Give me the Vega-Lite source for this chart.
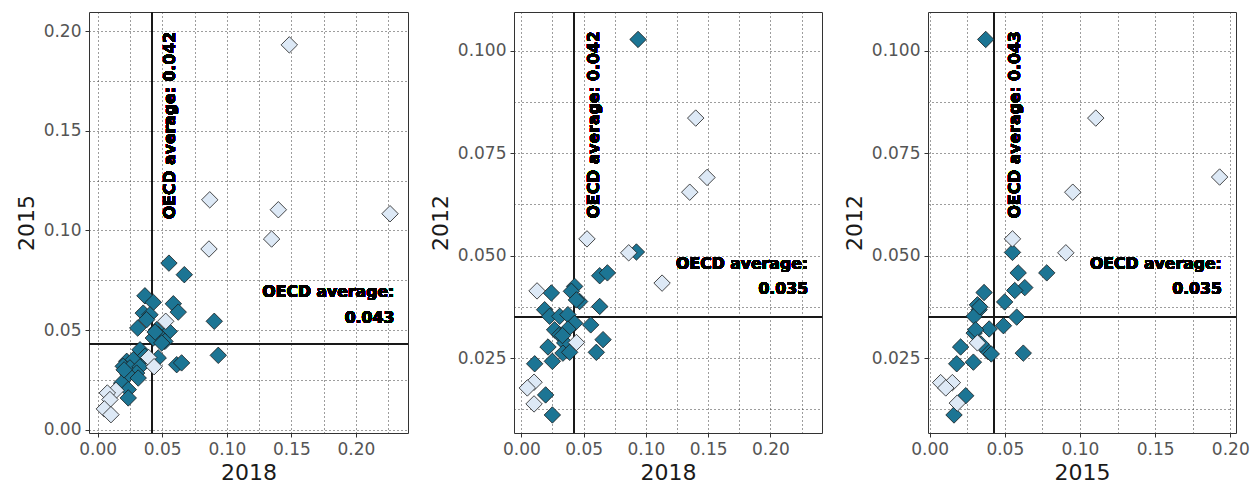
{
  "$schema": "https://vega.github.io/schema/vega-lite/v6.json",
  "padding": {"left": 14, "top": 11, "right": 0, "bottom": 0},
  "bounds": "flush",
  "spacing": 106,
  "config": {
    "view": {"stroke": "#333333", "strokeWidth": 1},
    "axis": {
      "domain": false, "grid": true, "gridColor": "#3a3a3a", "gridDash": [1, 3], "gridWidth": 1,
      "labelFont": "DejaVu Sans", "labelFontSize": 17, "labelColor": "#555555",
      "tickColor": "#333333", "tickSize": 4, "labelPadding": 4,
      "titleFont": "DejaVu Sans", "titleFontSize": 22, "titleFontWeight": "normal", "titleColor": "#1a1a1a", "titlePadding": 5
    }
  },
  "datasets": {
    "p1": [
      {"x": 0.0552, "y": 0.0836, "g": "dark"}, {"x": 0.0671, "y": 0.0778, "g": "dark"}, {"x": 0.0366, "y": 0.0672, "g": "dark"},
      {"x": 0.0431, "y": 0.0639, "g": "dark"}, {"x": 0.0586, "y": 0.0632, "g": "dark"}, {"x": 0.0624, "y": 0.059, "g": "dark"},
      {"x": 0.0353, "y": 0.0585, "g": "dark"}, {"x": 0.0405, "y": 0.0577, "g": "dark"}, {"x": 0.0379, "y": 0.0552, "g": "dark"},
      {"x": 0.031, "y": 0.051, "g": "dark"}, {"x": 0.0457, "y": 0.0502, "g": "dark"}, {"x": 0.0554, "y": 0.0493, "g": "dark"},
      {"x": 0.0469, "y": 0.0477, "g": "dark"}, {"x": 0.0521, "y": 0.0443, "g": "dark"}, {"x": 0.0431, "y": 0.046, "g": "dark"},
      {"x": 0.0496, "y": 0.0435, "g": "dark"}, {"x": 0.0903, "y": 0.0544, "g": "dark"}, {"x": 0.0934, "y": 0.0373, "g": "dark"},
      {"x": 0.0328, "y": 0.0401, "g": "dark"}, {"x": 0.0366, "y": 0.0368, "g": "dark"}, {"x": 0.0469, "y": 0.036, "g": "dark"},
      {"x": 0.0225, "y": 0.0343, "g": "dark"}, {"x": 0.0276, "y": 0.0351, "g": "dark"}, {"x": 0.0198, "y": 0.0318, "g": "dark"},
      {"x": 0.025, "y": 0.031, "g": "dark"}, {"x": 0.0328, "y": 0.0315, "g": "dark"}, {"x": 0.0302, "y": 0.0284, "g": "dark"},
      {"x": 0.0237, "y": 0.0276, "g": "dark"}, {"x": 0.0314, "y": 0.0259, "g": "dark"}, {"x": 0.0186, "y": 0.0234, "g": "dark"},
      {"x": 0.0237, "y": 0.0201, "g": "dark"}, {"x": 0.0237, "y": 0.0159, "g": "dark"}, {"x": 0.0612, "y": 0.0326, "g": "dark"},
      {"x": 0.065, "y": 0.0335, "g": "dark"}, {"x": 0.0445, "y": 0.049, "g": "dark"}, {"x": 0.0205, "y": 0.03, "g": "dark"},
      {"x": 0.1484, "y": 0.1932, "g": "light"}, {"x": 0.0868, "y": 0.1154, "g": "light"}, {"x": 0.1399, "y": 0.1104, "g": "light"},
      {"x": 0.2264, "y": 0.1084, "g": "light"}, {"x": 0.1347, "y": 0.0957, "g": "light"}, {"x": 0.0862, "y": 0.0907, "g": "light"},
      {"x": 0.0527, "y": 0.0544, "g": "light"}, {"x": 0.0395, "y": 0.0362, "g": "light"}, {"x": 0.0437, "y": 0.0316, "g": "light"},
      {"x": 0.0142, "y": 0.0197, "g": "light"}, {"x": 0.0075, "y": 0.0184, "g": "light"}, {"x": 0.0095, "y": 0.0151, "g": "light"},
      {"x": 0.0052, "y": 0.0104, "g": "light"}, {"x": 0.0103, "y": 0.0075, "g": "light"}
    ],
    "p2": [
      {"x": 0.0937, "y": 0.1028, "g": "dark"}, {"x": 0.0924, "y": 0.0509, "g": "dark"}, {"x": 0.0629, "y": 0.0451, "g": "dark"},
      {"x": 0.0691, "y": 0.0458, "g": "dark"}, {"x": 0.0428, "y": 0.0425, "g": "dark"}, {"x": 0.0402, "y": 0.0413, "g": "dark"},
      {"x": 0.0468, "y": 0.0388, "g": "dark"}, {"x": 0.0442, "y": 0.0392, "g": "dark"}, {"x": 0.0629, "y": 0.0376, "g": "dark"},
      {"x": 0.0241, "y": 0.0409, "g": "dark"}, {"x": 0.0187, "y": 0.0368, "g": "dark"}, {"x": 0.0227, "y": 0.0352, "g": "dark"},
      {"x": 0.0308, "y": 0.0352, "g": "dark"}, {"x": 0.0374, "y": 0.0356, "g": "dark"}, {"x": 0.0428, "y": 0.0335, "g": "dark"},
      {"x": 0.0557, "y": 0.0331, "g": "dark"}, {"x": 0.0267, "y": 0.0319, "g": "dark"}, {"x": 0.0308, "y": 0.0307, "g": "dark"},
      {"x": 0.0374, "y": 0.0321, "g": "dark"}, {"x": 0.0656, "y": 0.0295, "g": "dark"}, {"x": 0.0348, "y": 0.0287, "g": "dark"},
      {"x": 0.0214, "y": 0.0277, "g": "dark"}, {"x": 0.0334, "y": 0.0262, "g": "dark"}, {"x": 0.0388, "y": 0.0264, "g": "dark"},
      {"x": 0.0602, "y": 0.0264, "g": "dark"}, {"x": 0.0249, "y": 0.0242, "g": "dark"}, {"x": 0.0107, "y": 0.0236, "g": "dark"},
      {"x": 0.0195, "y": 0.016, "g": "dark"}, {"x": 0.0249, "y": 0.0111, "g": "dark"}, {"x": 0.033, "y": 0.0305, "g": "dark"},
      {"x": 0.14, "y": 0.0836, "g": "light"}, {"x": 0.1491, "y": 0.0691, "g": "light"}, {"x": 0.1352, "y": 0.0655, "g": "light"},
      {"x": 0.113, "y": 0.0433, "g": "light"}, {"x": 0.0862, "y": 0.0507, "g": "light"}, {"x": 0.0527, "y": 0.0541, "g": "light"},
      {"x": 0.0126, "y": 0.0414, "g": "light"}, {"x": 0.0442, "y": 0.0288, "g": "light"}, {"x": 0.0102, "y": 0.0191, "g": "light"},
      {"x": 0.0048, "y": 0.0177, "g": "light"}, {"x": 0.0102, "y": 0.0138, "g": "light"}
    ],
    "p3": [
      {"x": 0.0373, "y": 0.1028, "g": "dark"}, {"x": 0.0551, "y": 0.0508, "g": "dark"}, {"x": 0.0589, "y": 0.0458, "g": "dark"},
      {"x": 0.0779, "y": 0.0458, "g": "dark"}, {"x": 0.0633, "y": 0.0422, "g": "dark"}, {"x": 0.0566, "y": 0.0415, "g": "dark"},
      {"x": 0.0362, "y": 0.041, "g": "dark"}, {"x": 0.0499, "y": 0.0387, "g": "dark"}, {"x": 0.0318, "y": 0.038, "g": "dark"},
      {"x": 0.0329, "y": 0.0368, "g": "dark"}, {"x": 0.0296, "y": 0.0352, "g": "dark"}, {"x": 0.0579, "y": 0.035, "g": "dark"},
      {"x": 0.0491, "y": 0.0329, "g": "dark"}, {"x": 0.0396, "y": 0.0321, "g": "dark"}, {"x": 0.0296, "y": 0.0311, "g": "dark"},
      {"x": 0.0306, "y": 0.0319, "g": "dark"}, {"x": 0.0388, "y": 0.0266, "g": "dark"}, {"x": 0.041, "y": 0.026, "g": "dark"},
      {"x": 0.0206, "y": 0.0277, "g": "dark"}, {"x": 0.0623, "y": 0.0262, "g": "dark"}, {"x": 0.0291, "y": 0.024, "g": "dark"},
      {"x": 0.018, "y": 0.0236, "g": "dark"}, {"x": 0.024, "y": 0.0158, "g": "dark"}, {"x": 0.0162, "y": 0.0111, "g": "dark"},
      {"x": 0.0342, "y": 0.0284, "g": "dark"}, {"x": 0.0333, "y": 0.0375, "g": "dark"},
      {"x": 0.1105, "y": 0.0836, "g": "light"}, {"x": 0.1929, "y": 0.0692, "g": "light"}, {"x": 0.0952, "y": 0.0655, "g": "light"},
      {"x": 0.0906, "y": 0.0507, "g": "light"}, {"x": 0.0551, "y": 0.0541, "g": "light"}, {"x": 0.0318, "y": 0.0287, "g": "light"},
      {"x": 0.0073, "y": 0.019, "g": "light"}, {"x": 0.0151, "y": 0.019, "g": "light"}, {"x": 0.0107, "y": 0.0177, "g": "light"},
      {"x": 0.0184, "y": 0.014, "g": "light"}
    ]
  },
  "hconcat": [
    {
      "width": 319, "height": 421,
      "data": {"name": "p1"},
      "encoding": {
        "x": {"field": "x", "type": "quantitative", "title": "2018",
          "scale": {"domain": [-0.0067, 0.2403], "nice": false, "zero": false},
          "axis": {"values": [0, 0.025, 0.05, 0.075, 0.1, 0.125, 0.15, 0.175, 0.2, 0.225], "format": ".2f",
            "labelExpr": "abs(datum.value*20 - round(datum.value*20)) < 0.001 ? datum.label : ''",
            "tickOpacity": {"condition": {"test": "abs(datum.value*20 - round(datum.value*20)) < 0.001", "value": 1}, "value": 0}}},
        "y": {"field": "y", "type": "quantitative", "title": "2015",
          "scale": {"domain": [-0.0017, 0.2097], "nice": false, "zero": false},
          "axis": {"values": [0, 0.025, 0.05, 0.075, 0.1, 0.125, 0.15, 0.175, 0.2], "format": ".2f",
            "labelExpr": "abs(datum.value*20 - round(datum.value*20)) < 0.001 ? datum.label : ''",
            "tickOpacity": {"condition": {"test": "abs(datum.value*20 - round(datum.value*20)) < 0.001", "value": 1}, "value": 0}}}
      },
      "layer": [
        {"mark": {"type": "rule", "color": "#1a1a1a", "strokeWidth": 1}, "encoding": {"x": {"datum": 0.042}, "y": null}},
        {"mark": {"type": "rule", "color": "#1a1a1a", "strokeWidth": 1}, "encoding": {"y": {"datum": 0.043}, "x": null}},
        {"mark": {"type": "point", "shape": "diamond", "filled": true, "size": 270, "stroke": "#1a1a1a", "strokeWidth": 0.8, "opacity": 1},
         "encoding": {"color": {"field": "g", "type": "nominal", "scale": {"domain": ["dark", "light"], "range": ["#1c7594", "#dde9f6"]}, "legend": null}}},
        {"mark": {"type": "text", "angle": 270, "align": "right", "baseline": "middle", "font": "DejaVu Sans", "fontSize": 15.7, "fontWeight": "bold", "color": "#000000"},
         "encoding": {"x": {"datum": 0.056}, "y": {"datum": 0.1997}, "text": {"value": "OECD average:  0.042"}}},
        {"mark": {"type": "text", "align": "right", "baseline": "middle", "lineBreak": "\n", "lineHeight": 25.6, "font": "DejaVu Sans", "fontSize": 15.7, "fontWeight": "bold", "color": "#000000"},
         "encoding": {"x": {"datum": 0.2297}, "y": {"datum": 0.0689}, "text": {"value": "OECD average:\n0.043"}}}
      ]
    },
    {
      "width": 308, "height": 421,
      "data": {"name": "p2"},
      "encoding": {
        "x": {"field": "x", "type": "quantitative", "title": "2018",
          "scale": {"domain": [-0.0059, 0.2414], "nice": false, "zero": false},
          "axis": {"values": [0, 0.025, 0.05, 0.075, 0.1, 0.125, 0.15, 0.175, 0.2, 0.225], "format": ".2f",
            "labelExpr": "abs(datum.value*20 - round(datum.value*20)) < 0.001 ? datum.label : ''",
            "tickOpacity": {"condition": {"test": "abs(datum.value*20 - round(datum.value*20)) < 0.001", "value": 1}, "value": 0}}},
        "y": {"field": "y", "type": "quantitative", "title": "2012",
          "scale": {"domain": [0.0067, 0.1095], "nice": false, "zero": false},
          "axis": {"values": [0.0125, 0.025, 0.0375, 0.05, 0.0625, 0.075, 0.0875, 0.1], "format": ".3f",
            "labelExpr": "abs(datum.value*40 - round(datum.value*40)) < 0.001 ? datum.label : ''",
            "tickOpacity": {"condition": {"test": "abs(datum.value*40 - round(datum.value*40)) < 0.001", "value": 1}, "value": 0}}}
      },
      "layer": [
        {"mark": {"type": "rule", "color": "#1a1a1a", "strokeWidth": 1}, "encoding": {"x": {"datum": 0.042}, "y": null}},
        {"mark": {"type": "rule", "color": "#1a1a1a", "strokeWidth": 1}, "encoding": {"y": {"datum": 0.035}, "x": null}},
        {"mark": {"type": "point", "shape": "diamond", "filled": true, "size": 270, "stroke": "#1a1a1a", "strokeWidth": 0.8, "opacity": 1},
         "encoding": {"color": {"field": "g", "type": "nominal", "scale": {"domain": ["dark", "light"], "range": ["#1c7594", "#dde9f6"]}, "legend": null}}},
        {"mark": {"type": "text", "angle": 270, "align": "right", "baseline": "middle", "font": "DejaVu Sans", "fontSize": 15.7, "fontWeight": "bold", "color": "#000000"},
         "encoding": {"x": {"datum": 0.058}, "y": {"datum": 0.1048}, "text": {"value": "OECD average:  0.042"}}},
        {"mark": {"type": "text", "align": "right", "baseline": "middle", "lineBreak": "\n", "lineHeight": 25.6, "font": "DejaVu Sans", "fontSize": 15.7, "fontWeight": "bold", "color": "#000000"},
         "encoding": {"x": {"datum": 0.2302}, "y": {"datum": 0.048}, "text": {"value": "OECD average:\n0.035"}}}
      ]
    },
    {
      "width": 308, "height": 421,
      "data": {"name": "p3"},
      "encoding": {
        "x": {"field": "x", "type": "quantitative", "title": "2015",
          "scale": {"domain": [-0.0011, 0.2038], "nice": false, "zero": false},
          "axis": {"values": [0, 0.025, 0.05, 0.075, 0.1, 0.125, 0.15, 0.175, 0.2], "format": ".2f",
            "labelExpr": "abs(datum.value*20 - round(datum.value*20)) < 0.001 ? datum.label : ''",
            "tickOpacity": {"condition": {"test": "abs(datum.value*20 - round(datum.value*20)) < 0.001", "value": 1}, "value": 0}}},
        "y": {"field": "y", "type": "quantitative", "title": "2012",
          "scale": {"domain": [0.0067, 0.1095], "nice": false, "zero": false},
          "axis": {"values": [0.0125, 0.025, 0.0375, 0.05, 0.0625, 0.075, 0.0875, 0.1], "format": ".3f",
            "labelExpr": "abs(datum.value*40 - round(datum.value*40)) < 0.001 ? datum.label : ''",
            "tickOpacity": {"condition": {"test": "abs(datum.value*40 - round(datum.value*40)) < 0.001", "value": 1}, "value": 0}}}
      },
      "layer": [
        {"mark": {"type": "rule", "color": "#1a1a1a", "strokeWidth": 1}, "encoding": {"x": {"datum": 0.043}, "y": null}},
        {"mark": {"type": "rule", "color": "#1a1a1a", "strokeWidth": 1}, "encoding": {"y": {"datum": 0.035}, "x": null}},
        {"mark": {"type": "point", "shape": "diamond", "filled": true, "size": 270, "stroke": "#1a1a1a", "strokeWidth": 0.8, "opacity": 1},
         "encoding": {"color": {"field": "g", "type": "nominal", "scale": {"domain": ["dark", "light"], "range": ["#1c7594", "#dde9f6"]}, "legend": null}}},
        {"mark": {"type": "text", "angle": 270, "align": "right", "baseline": "middle", "font": "DejaVu Sans", "fontSize": 15.7, "fontWeight": "bold", "color": "#000000"},
         "encoding": {"x": {"datum": 0.0569}, "y": {"datum": 0.1048}, "text": {"value": "OECD average:  0.043"}}},
        {"mark": {"type": "text", "align": "right", "baseline": "middle", "lineBreak": "\n", "lineHeight": 25.6, "font": "DejaVu Sans", "fontSize": 15.7, "fontWeight": "bold", "color": "#000000"},
         "encoding": {"x": {"datum": 0.1944}, "y": {"datum": 0.048}, "text": {"value": "OECD average:\n0.035"}}}
      ]
    }
  ]
}
